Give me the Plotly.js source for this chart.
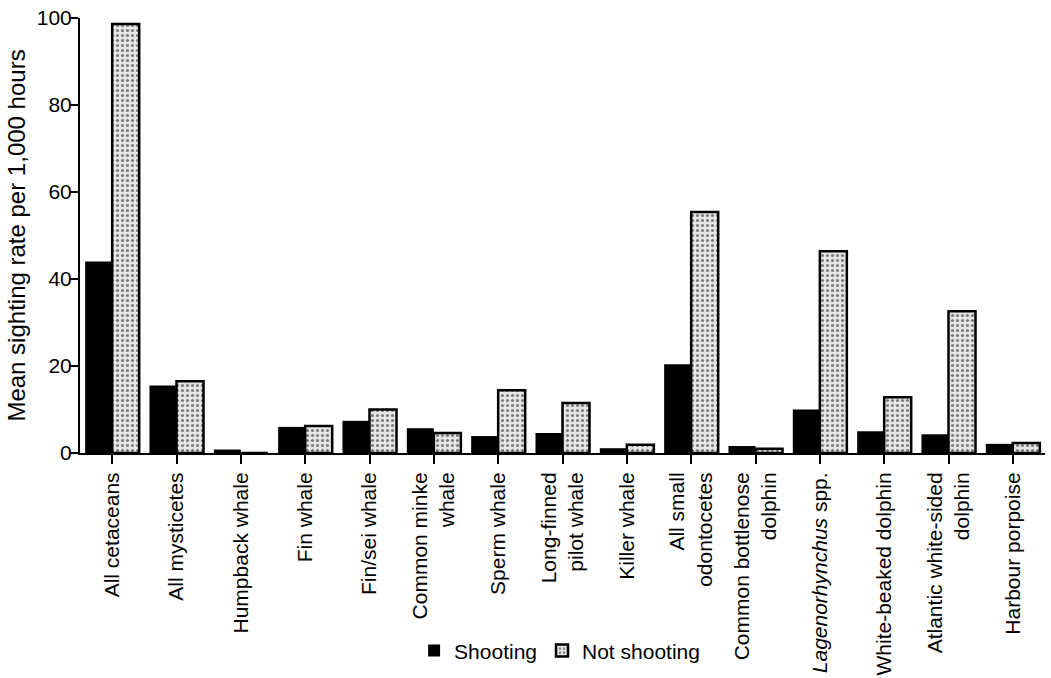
<!DOCTYPE html>
<html>
<head>
<meta charset="utf-8">
<script src="https://cdn.plot.ly/plotly-3.0.1.min.js"></script>
<style>
  html, body { margin: 0; padding: 0; background: #fff; }
  #chart { width: 1051px; height: 678px; }
</style>
</head>
<body>
<div id="chart"></div>
<script>
// Species groups along the x axis (two-line labels use <br>)
const categories = [
  "All cetaceans",
  "All mysticetes",
  "Humpback whale",
  "Fin whale",
  "Fin/sei whale",
  "Common minke<br>whale",
  "Sperm whale",
  "Long-finned<br>pilot whale",
  "Killer whale",
  "All small<br>odontocetes",
  "Common bottlenose<br>dolphin",
  "<i>Lagenorhynchus</i> spp.",
  "White-beaked dolphin",
  "Atlantic white-sided<br>dolphin",
  "Harbour porpoise"
];

// Mean sighting rate per 1,000 hours
const shooting    = [44.0, 15.5, 0.8, 6.0, 7.4, 5.7, 3.9, 4.6, 1.1, 20.4, 1.6, 10.0, 5.0, 4.3, 2.1];
const notShooting = [98.6, 16.5, 0.0, 6.2, 10.0, 4.6, 14.4, 11.5, 1.9, 55.4, 1.0, 46.4, 12.8, 32.6, 2.3];

const yTicks = [0, 20, 40, 60, 80, 100];

const idx = categories.map((_, i) => i);
const FONT = "Liberation Sans, Arial, Helvetica, sans-serif";

const traces = [
  {
    type: "bar",
    name: "Shooting",
    x: idx,
    y: shooting,
    marker: { color: "#000000", line: { color: "#000000", width: 0 } },
    hoverinfo: "y"
  },
  {
    type: "bar",
    name: "Not shooting",
    x: idx,
    y: notShooting,
    marker: {
      color: "#ffffff",
      line: { color: "#000000", width: 2.5 },
      pattern: { shape: ".", size: 5, solidity: 0.3, fgcolor: "#111111", bgcolor: "#e6e6e6", fillmode: "overlay" }
    },
    hoverinfo: "y"
  }
];

const layout = {
  width: 1051,
  height: 678,
  margin: { l: 80, r: 6, t: 18, b: 225 },
  paper_bgcolor: "#ffffff",
  plot_bgcolor: "#ffffff",
  font: { family: FONT, size: 21, color: "#000000" },
  barmode: "group",
  bargap: 0.16,
  bargroupgap: 0,
  showlegend: true,
  legend: {
    orientation: "h",
    x: 0.497,
    xanchor: "center",
    y: -0.455,
    yanchor: "middle",
    font: { family: FONT, size: 21 },
    itemwidth: 30,
    traceorder: "normal"
  },
  xaxis: {
    range: [-0.5, 14.5],
    tickmode: "array",
    tickvals: idx,
    ticktext: categories,
    tickangle: -90,
    tickson: "boundaries",
    ticks: "outside",
    ticklen: 9,
    tickwidth: 2,
    tickcolor: "#000000",
    showline: true,
    linecolor: "#000000",
    linewidth: 2,
    showgrid: false,
    zeroline: false,
    tickfont: { family: FONT, size: 21 },
    automargin: false,
    fixedrange: true
  },
  yaxis: {
    range: [0, 100],
    tickmode: "array",
    tickvals: yTicks,
    ticktext: yTicks.map(String),
    ticks: "outside",
    ticklen: 8,
    tickwidth: 2,
    tickcolor: "#000000",
    ticklabelstandoff: -6,
    showline: true,
    linecolor: "#000000",
    linewidth: 2,
    showgrid: false,
    zeroline: false,
    tickfont: { family: FONT, size: 21 },
    title: { text: "Mean sighting rate per 1,000 hours", font: { family: FONT, size: 24 }, standoff: 4 },
    automargin: false,
    fixedrange: true
  }
};

Plotly.newPlot("chart", traces, layout, { displayModeBar: false, staticPlot: true });
</script>
</body>
</html>
